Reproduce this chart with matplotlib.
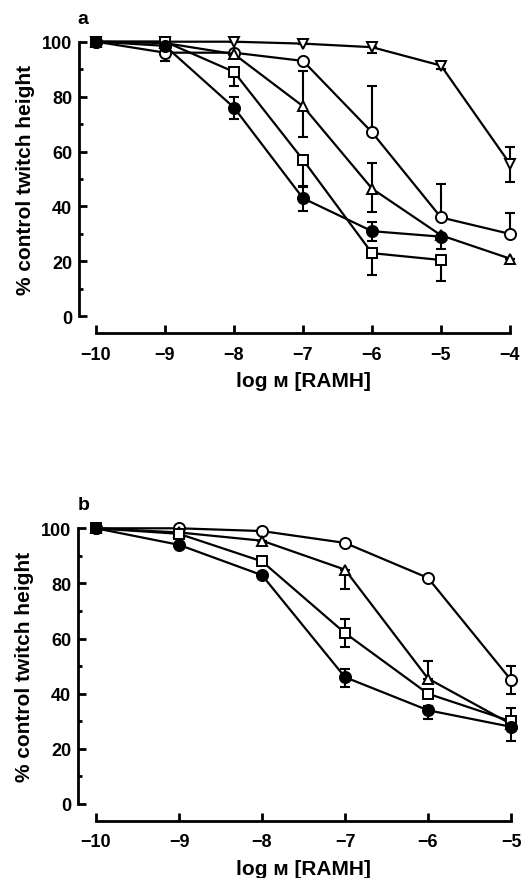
import numpy as np
import matplotlib
matplotlib.use("Agg")
import matplotlib.pyplot as plt
from matplotlib.ticker import MultipleLocator

plt.rcParams['font.family'] = ['Liberation Sans', 'DejaVu Sans']
plt.rcParams['font.weight'] = 'bold'

# Panel a: log M concentrations and responses (% control twitch height)
conc_a = [-10, -9, -8, -7, -6, -5, -4]
a_filled = [100, 98.5, 76, 43, 31, 29]
a_filled_lo = [0, 0, 4, 4.5, 3.4, 4.5]
a_filled_hi = [0, 0, 4, 4, 3.2, 0]
a_square = [100, 100, 89, 57, 23, 20.5]
a_square_lo = [0, 0, 5, 9.5, 8, 7.5]
a_square_hi = [0, 0, 0, 0, 0, 0]
a_tri = [100, 99.5, 95.5, 76.5, 46.5, 29.5, 21]
a_tri_lo = [0, 0, 0, 11.3, 8.5, 0, 0]
a_tri_hi = [0, 0, 0, 12.7, 9.3, 0, 0]
a_circle = [100, 96, 96, 93, 67, 36, 30]
a_circle_lo = [0, 3, 0, 0, 0, 0, 0]
a_circle_hi = [0, 0, 0, 0, 17, 12, 7.6]
a_invtri = [100, 100, 100, 99.3, 98, 91.3, 55.5]
a_invtri_lo = [0, 0, 0, 0, 2, 1.3, 6.5]
a_invtri_hi = [0, 0, 0, 0, 0, 1, 6]

# Panel b
conc_b = [-10, -9, -8, -7, -6, -5]
b_filled = [100, 94, 83, 46, 34, 28]
b_filled_lo = [0, 0, 0, 3.5, 3.3, 5.3]
b_filled_hi = [0, 0, 0, 3, 1.5, 0]
b_square = [100, 98, 88, 62, 40, 30]
b_square_lo = [0, 0, 0, 5, 0, 0]
b_square_hi = [0, 0, 0, 5, 0, 5]
b_tri = [100, 98.5, 95.5, 85, 45.5, 29]
b_tri_lo = [0, 0, 0, 7, 0, 0]
b_tri_hi = [0, 0, 0, 0, 6.5, 0]
b_circle = [100, 100, 99, 94.7, 82, 45]
b_circle_lo = [0, 0, 0, 0, 0, 5]
b_circle_hi = [0, 0, 0, 0, 0, 5]

W, H = 524, 879
fig = plt.figure(figsize=(W / 100, H / 100), dpi=100)


def px_axes(left, right, top, bottom):
    return fig.add_axes([left / W, 1 - bottom / H, (right - left) / W, (bottom - top) / H])


def draw_series(ax, x, y, lo, hi, marker, fill, ms=8):
    x = x[:len(y)]
    ax.errorbar(x, y, yerr=[lo, hi], fmt='none', ecolor='black', elinewidth=1.5,
                capsize=3.6, capthick=1.5, clip_on=False, zorder=2)
    ax.plot(x, y, color='black', lw=1.6, marker=marker, ms=ms, mfc=fill,
            mec='black', mew=1.4, clip_on=False, zorder=3)


def style_axes(ax, xmin, xmax, left_out, bottom_out, label):
    ax.set_xlim(xmin, xmax)
    ax.set_ylim(0, 100)
    for s in ['top', 'right']:
        ax.spines[s].set_visible(False)
    ax.spines['left'].set_position(('outward', left_out * 0.72))
    ax.spines['bottom'].set_position(('outward', bottom_out * 0.72))
    ax.spines['left'].set_bounds(0, 100)
    ax.spines['bottom'].set_bounds(xmin, xmax)
    ax.spines['left'].set_linewidth(2)
    ax.spines['bottom'].set_linewidth(2)
    ax.set_xticks(range(xmin, xmax + 1))
    ax.set_xticklabels(['\u2212%d' % abs(v) for v in range(xmin, xmax + 1)])
    ax.yaxis.set_major_locator(MultipleLocator(20))
    ax.yaxis.set_minor_locator(MultipleLocator(10))
    ax.tick_params(direction='in', width=2, length=6, labelsize=13)
    ax.tick_params(axis='x', pad=9)
    ax.tick_params(axis='y', pad=5)
    ax.tick_params(axis='y', which='minor', direction='in', width=2, length=3)
    ax.set_xlabel('log \u043c [RAMH]', fontsize=15, fontweight='bold', labelpad=6)
    ax.set_ylabel('% control twitch height', fontsize=15, fontweight='bold', labelpad=5)
    ax.text(-0.045, 1.055, label, transform=ax.transAxes, fontsize=14,
            fontweight='bold', ha='left', va='bottom')


# Panel a
ax1 = px_axes(96, 510, 42.7, 317.3)
draw_series(ax1, conc_a, a_invtri, a_invtri_lo, a_invtri_hi, 'v', 'white', ms=7)
draw_series(ax1, conc_a, a_circle, a_circle_lo, a_circle_hi, 'o', 'white')
draw_series(ax1, conc_a, a_tri, a_tri_lo, a_tri_hi, '^', 'white', ms=7)
draw_series(ax1, conc_a, a_square, a_square_lo, a_square_hi, 's', 'white', ms=7.5)
draw_series(ax1, conc_a, a_filled, a_filled_lo, a_filled_hi, 'o', 'black')
style_axes(ax1, -10, -4, 17, 17, 'a')

# Panel b
ax2 = px_axes(96, 511, 529.3, 805)
draw_series(ax2, conc_b, b_circle, b_circle_lo, b_circle_hi, 'o', 'white')
draw_series(ax2, conc_b, b_tri, b_tri_lo, b_tri_hi, '^', 'white', ms=7)
draw_series(ax2, conc_b, b_square, b_square_lo, b_square_hi, 's', 'white', ms=7.5)
draw_series(ax2, conc_b, b_filled, b_filled_lo, b_filled_hi, 'o', 'black')
style_axes(ax2, -10, -5, 18, 17, 'b')

fig.savefig('out.png', dpi=100, facecolor='white')
